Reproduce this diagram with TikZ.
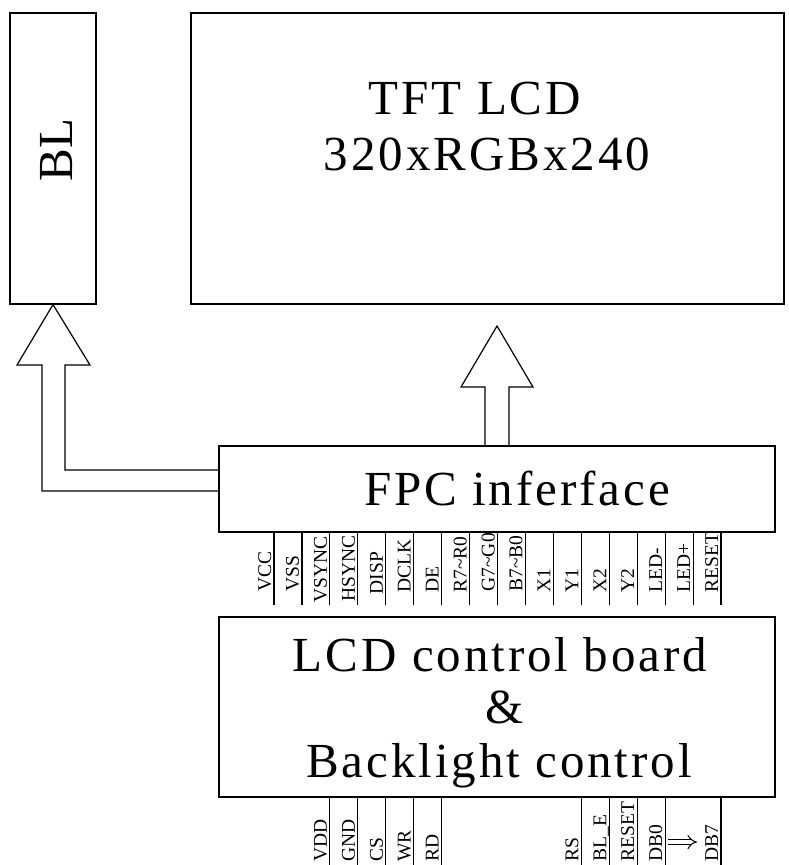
\documentclass[tikz,border=0pt]{standalone}
\usepackage{fontspec}
\usetikzlibrary{arrows.meta}
\setmainfont{Liberation Serif}
\newfontfamily\bigfont[LetterSpace=6]{Liberation Serif}
\begin{document}
\begin{tikzpicture}[x=1pt,y=-1pt,line width=1.2pt,
  blk/.style={draw,inner sep=0pt},
  bigtxt/.style={anchor=base,inner sep=0pt,font=\bigfont\fontsize{49}{49}\selectfont},
  pinlbl/.style={rotate=90,anchor=base west,inner sep=0pt,font=\fontsize{19.5}{19.5}\selectfont}]
\useasboundingbox (0,0) rectangle (789,865);
% blocks
\node[blk,minimum width=86pt,minimum height=291pt] (bl) at (53,158.5) {};
\node[blk,minimum width=593pt,minimum height=291pt] (lcd) at (487.5,158.5) {};
\node[blk,minimum width=556pt,minimum height=86pt] (fpc) at (497,489) {};
\node[blk,minimum width=556pt,minimum height=180pt] (board) at (497,707) {};
% texts
\node[anchor=base west,rotate=90,inner sep=0pt,font=\fontsize{49}{49}\selectfont] (bltxt) at (72,182) {BL};
\node[bigtxt] (t1) at (475,114) {TFT LCD};
\node[bigtxt] (t2) at (487,170) {320xRGBx240};
\node[bigtxt] (t3) at (517,505) {FPC inferface};
\node[bigtxt] (t4) at (500,671) {LCD control board};
\node[bigtxt] (t5) at (505,723) {\&};
\node[bigtxt] (t6) at (499,777) {Backlight control};
% hollow arrows
\draw (219,491) -- (42,491) -- (42,365) -- (17,365) -- (bl.south) -- (90,365) -- (65,365) -- (65,470) -- (219,470);
\draw (485,446) -- (485,387) -- (461,387) -- (497,326) -- (533,387) -- (509,387) -- (509,446);
% FPC pins
\foreach \t/\yb [count=\i from 0] in {VCC/592,VSS/592,VSYNC/603,HSYNC/602,DISP/595,DCLK/593,DE/593,R7\textasciitilde R0/593,G7\textasciitilde G0/592,B7\textasciitilde B0/592,X1/593,Y1/593,X2/593,Y2/593,LED-/593,LED+/593,RESET/593}{
  \pgfmathsetmacro\xx{274+27.94*\i}
  \draw (\xx,532) -- (\xx,605);
  \node[pinlbl] (top\i) at (\xx-3,\yb) {\t};
}
% board pins
\foreach \i/\t in {2/VDD,3/GND,4/CS,5/WR,6/RD,11/RS,12/BL\_E,13/RESET,14/DB0,16/DB7}{
  \pgfmathsetmacro\xx{274+27.94*\i}
  \draw (\xx,797) -- (\xx,866);
  \node[pinlbl] (bot\i) at (\xx-3,862) {\t};
}
\coordinate (dbA) at (668,842);
\coordinate (dbB) at (697,842);
\draw[line width=1pt,double,double distance=4pt,-{Implies[length=6pt,width=12pt]}] (dbA) -- (dbB);
\end{tikzpicture}
\end{document}
